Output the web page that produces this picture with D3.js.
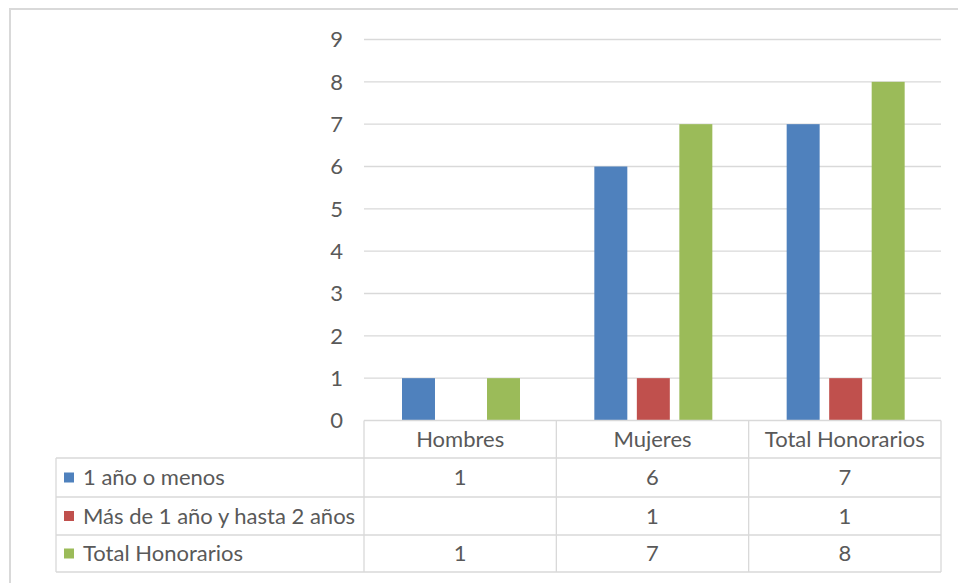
<!DOCTYPE html>
<html>
<head>
<meta charset="utf-8">
<script src="https://cdn.jsdelivr.net/npm/d3@7"></script>
<style>
  body { margin: 0; background: #fff; }
  text { font-family: Lato, "Open Sans", sans-serif; fill: #595959; }
</style>
</head>
<body>
<script>
// data
var categories = ['Hombres', 'Mujeres', 'Total Honorarios'];
var seriesNames = ['1 año o menos', 'Más de 1 año y hasta 2 años', 'Total Honorarios'];
var menos1 = [1, 6, 7];
var de1a2 = [null, 1, 1];
var totalHon = [1, 7, 8];
var yTicks = [0, 1, 2, 3, 4, 5, 6, 7, 8, 9];

var seriesValues = [menos1, de1a2, totalHon];
var colors = ['#4F81BD', '#C0504D', '#9BBB59'];

var width = 958, height = 583;
var plot = { left: 364, right: 941, top: 39.5, bottom: 420.5 };
var tableLeft = 56;
var rowTops = [420.5, 458, 497, 535, 572];
var grid = '#d9d9d9';
var fontSize = 22;

var svg = d3.select('body').append('svg')
  .attr('width', width)
  .attr('height', height);

// chart area frame (only top/left visible)
svg.append('rect')
  .attr('x', 10).attr('y', 9)
  .attr('width', 1000).attr('height', 700)
  .attr('fill', 'none')
  .attr('stroke', grid)
  .attr('stroke-width', 2);

// scales
var y = d3.scaleLinear().domain([0, 9]).range([plot.bottom, plot.top]);
var x0 = d3.scaleBand().domain(categories).range([plot.left, plot.right]);
var x1 = d3.scaleBand().domain(d3.range(seriesNames.length))
  .range([38, 156])
  .paddingInner(0.224);

// gridlines
svg.selectAll('line.grid')
  .data(yTicks.slice(1))
  .enter().append('line')
  .attr('class', 'grid')
  .attr('x1', plot.left).attr('x2', plot.right)
  .attr('y1', function(d) { return y(d); })
  .attr('y2', function(d) { return y(d); })
  .attr('stroke', grid)
  .attr('stroke-width', 1.3);

// y axis labels
svg.selectAll('text.ytick')
  .data(yTicks)
  .enter().append('text')
  .attr('class', 'ytick')
  .attr('x', 343)
  .attr('y', function(d) { return y(d); })
  .attr('dy', '0.36em')
  .attr('text-anchor', 'end')
  .attr('font-size', fontSize)
  .text(function(d) { return d; });

// bars
seriesValues.forEach(function(vals, si) {
  svg.selectAll('rect.s' + si)
    .data(vals.map(function(v, i) { return { cat: categories[i], v: v }; })
      .filter(function(d) { return d.v !== null; }))
    .enter().append('rect')
    .attr('class', 's' + si)
    .attr('x', function(d) { return x0(d.cat) + x1(si); })
    .attr('width', x1.bandwidth())
    .attr('y', function(d) { return y(d.v); })
    .attr('height', function(d) { return y(0) - y(d.v); })
    .attr('fill', colors[si]);
});

// data table lines
var colEdges = categories.map(function(c) { return x0(c); }).concat([plot.right]);

svg.selectAll('line.hrow')
  .data(rowTops)
  .enter().append('line')
  .attr('x1', function(d, i) { return i === 0 ? plot.left : tableLeft; })
  .attr('x2', plot.right)
  .attr('y1', function(d) { return d; })
  .attr('y2', function(d) { return d; })
  .attr('stroke', grid).attr('stroke-width', 1.3);

svg.selectAll('line.vcol')
  .data(colEdges)
  .enter().append('line')
  .attr('x1', function(d) { return d; })
  .attr('x2', function(d) { return d; })
  .attr('y1', rowTops[0])
  .attr('y2', rowTops[rowTops.length - 1])
  .attr('stroke', grid).attr('stroke-width', 1.3);

svg.append('line')
  .attr('x1', tableLeft).attr('x2', tableLeft)
  .attr('y1', rowTops[1]).attr('y2', rowTops[rowTops.length - 1])
  .attr('stroke', grid).attr('stroke-width', 1.3);

// header labels
svg.selectAll('text.cat')
  .data(categories)
  .enter().append('text')
  .attr('x', function(d) { return x0(d) + x0.bandwidth() / 2; })
  .attr('y', (rowTops[0] + rowTops[1]) / 2)
  .attr('dy', '0.36em')
  .attr('text-anchor', 'middle')
  .attr('font-size', fontSize)
  .text(function(d) { return d; });

// series rows
seriesNames.forEach(function(name, si) {
  var cy = (rowTops[si + 1] + rowTops[si + 2]) / 2;

  svg.append('rect')
    .attr('x', 64).attr('y', cy - 5)
    .attr('width', 10).attr('height', 10)
    .attr('fill', colors[si]);

  svg.append('text')
    .attr('x', 83).attr('y', cy)
    .attr('dy', '0.36em')
    .attr('font-size', fontSize)
    .text(name);

  svg.selectAll('text.val' + si)
    .data(seriesValues[si].map(function(v, i) { return { cat: categories[i], v: v }; })
      .filter(function(d) { return d.v !== null; }))
    .enter().append('text')
    .attr('x', function(d) { return x0(d.cat) + x0.bandwidth() / 2; })
    .attr('y', cy)
    .attr('dy', '0.36em')
    .attr('text-anchor', 'middle')
    .attr('font-size', fontSize)
    .text(function(d) { return d.v; });
});
</script>
</body>
</html>
